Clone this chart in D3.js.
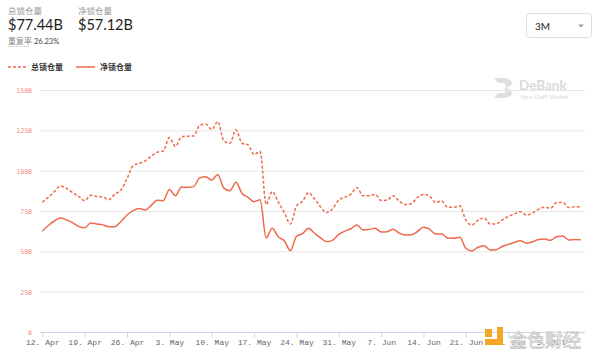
<!DOCTYPE html>
<html>
<head>
<meta charset="utf-8">
<script src="https://cdn.jsdelivr.net/npm/d3@7/dist/d3.min.js"></script>
<style>
  body { margin: 0; background: #fff; }
  svg { display: block; font-family: Lato, "Noto Sans CJK SC", sans-serif; }
</style>
</head>
<body>
<svg id="chart" width="600" height="359"></svg>
<script>
// daily values, 12 Apr .. 10 Jul (billions USD)
var startDate = new Date(2021, 3, 12);
var totalLocked = [80.5, 83.5, 87, 90.5, 89, 86.5, 84, 81.4, 84.8, 84, 83.7, 82, 85.5, 88, 95,
  103, 104.5, 106, 109, 111.5, 112.2, 120.5, 115, 121, 121.4, 121.5, 128, 128.9, 125.5, 130.4,
  118.5, 117, 125.3, 117, 116, 110, 112, 79, 87, 80.5, 74, 67, 78, 81, 86.3, 82.5, 77.5, 74,
  76.5, 81.8, 83.5, 85.5, 89.5, 84.5, 84.5, 85.3, 81.5, 81.8, 84.5, 81, 79, 79.5, 83.5, 85.3,
  84.3, 80.2, 81.2, 77.3, 77.3, 78.2, 69.4, 66.3, 69.2, 70.8, 66.9, 66.9, 69.5, 71.5, 73.2,
  74.6, 72.5, 73.7, 76, 77.3, 76.7, 80.2, 80.4, 77.2, 77.6, 77.44];
var netLocked = [62.6, 66, 68.8, 70.6, 69.5, 67.8, 65.5, 64.6, 67.6, 66.9, 66.4, 65.2, 65.3, 68.5,
  72.5, 75.2, 76.5, 75.6, 78.5, 81.6, 81.4, 88.3, 84.5, 89.8, 89.7, 90.1, 95.5, 96.3, 94.2, 97.7,
  89.2, 87.6, 92.8, 86, 83.5, 80.8, 82, 58.3, 64.3, 59, 56.5, 50.4, 59.2, 61, 64.3, 61.2, 58.3,
  56, 57, 60.5, 62.5, 64, 66.4, 63.3, 63.6, 64.3, 62, 62.2, 63.7, 61.3, 60.2, 60.3, 62.3, 64.9,
  63.8, 60.7, 60.7, 58.2, 58.1, 58.7, 51.9, 50.2, 52.5, 53.5, 50.8, 51, 53, 54.3, 55.5, 56.6,
  55, 55.9, 57.3, 57.6, 56.8, 59.1, 59.5, 57.1, 57.4, 57.12];
var yTicks = [0, 25, 50, 75, 100, 125, 150];
var xTickLabels = ["12. Apr", "19. Apr", "26. Apr", "3. May", "10. May", "17. May", "24. May",
  "31. May", "7. Jun", "14. Jun", "21. Jun", "28. Jun", "5. Jul"];

var lineColor = "#ee6a4c";
var svg = d3.select("#chart");

function dayDate(i) { return d3.timeDay.offset(startDate, i); }

var x = d3.scaleTime()
  .domain([startDate, dayDate(89)])
  .range([42.3, 580.8]);
var y = d3.scaleLinear().domain([0, 150]).range([332, 90]);

// header numbers
var hdr = svg.append("g");
hdr.append("text").attr("x", 8).attr("y", 14).attr("font-size", 8.5).attr("fill", "#999").text("总锁仓量");
hdr.append("text").attr("x", 8).attr("y", 30).attr("font-size", 14.5).attr("fill", "#222").text("$77.44B");
hdr.append("text").attr("x", 78).attr("y", 14).attr("font-size", 8.5).attr("fill", "#999").text("净锁仓量");
hdr.append("text").attr("x", 78).attr("y", 30).attr("font-size", 14.5).attr("fill", "#222").text("$57.12B");
hdr.append("text").attr("x", 8).attr("y", 44).attr("font-size", 8).attr("fill", "#888").text("重复率");
hdr.append("line").attr("x1", 8).attr("x2", 30).attr("y1", 46.5).attr("y2", 46.5)
  .attr("stroke", "#bbb").attr("stroke-dasharray", "1,1");
hdr.append("text").attr("x", 34).attr("y", 44).attr("font-size", 7.5).attr("fill", "#444").text("26.23%");

// period selector
var sel = svg.append("g");
sel.append("rect").attr("x", 526.5).attr("y", 13.5).attr("width", 65).attr("height", 24).attr("rx", 3)
  .attr("fill", "#fff").attr("stroke", "#ddd");
sel.append("text").attr("x", 535).attr("y", 30).attr("font-size", 10).attr("fill", "#222").text("3M");
sel.append("path").attr("d", "M578,24.5 L584,24.5 L581,27.5 Z").attr("fill", "#999");

// legend
var lg = svg.append("g");
lg.append("line").attr("x1", 8).attr("x2", 26).attr("y1", 67).attr("y2", 67)
  .attr("stroke", lineColor).attr("stroke-width", 1.5).attr("stroke-dasharray", "3,2");
lg.append("text").attr("x", 31).attr("y", 70).attr("font-size", 8).attr("font-weight", "bold")
  .attr("fill", "#333").text("总锁仓量");
lg.append("line").attr("x1", 76).attr("x2", 95).attr("y1", 67).attr("y2", 67)
  .attr("stroke", lineColor).attr("stroke-width", 1.5);
lg.append("text").attr("x", 100).attr("y", 70).attr("font-size", 8).attr("font-weight", "bold")
  .attr("fill", "#333").text("净锁仓量");

// DeBank watermark
var wm = svg.append("g").attr("opacity", 0.9);
wm.append("path").attr("d", "M494,78 h10 a8,5 0 0 1 0,10 a8,5 0 0 1 0,10 h-10 l4,-5 h5 a2,2 0 0 0 0,-5 a2,2 0 0 0 0,-5 h-5 z")
  .attr("fill", "#dcdcdc");
wm.append("text").attr("x", 519).attr("y", 90).attr("font-size", 13.5).attr("font-weight", "bold")
  .attr("fill", "#d6d6d6").text("DeBank");
wm.append("text").attr("x", 520).attr("y", 99).attr("font-size", 6.5).attr("fill", "#d6d6d6").text("Your DeFi Wallet");

// grid
svg.append("g").selectAll("line").data(yTicks.filter(function(d){ return d > 0; })).enter()
  .append("line")
  .attr("x1", 40).attr("x2", 585)
  .attr("y1", function(d){ return y(d) + 0.5; }).attr("y2", function(d){ return y(d) + 0.5; })
  .attr("stroke", "#e6e6e6");

svg.append("g").selectAll("text").data(yTicks).enter()
  .append("text")
  .attr("x", 32).attr("y", function(d){ return y(d) + 3; })
  .attr("text-anchor", "end")
  .attr("font-family", "'DejaVu Sans Mono', monospace")
  .attr("font-size", 6.5).attr("fill", "#f08a80")
  .text(function(d){ return d === 0 ? "0" : d + "B"; });

// x axis
var tickDates = xTickLabels.map(function(t, i){ return dayDate(i * 7); });
var xAxis = d3.axisBottom(x).tickValues(tickDates).tickSize(5)
  .tickFormat(function(d, i){ return xTickLabels[i]; });
var gx = svg.append("g").attr("transform", "translate(0,332.5)").call(xAxis);
gx.select(".domain").attr("d", "M40,0H585").attr("stroke", "#ccd6eb");
gx.selectAll(".tick line").attr("stroke", "#ccd6eb");
gx.selectAll(".tick text").attr("font-family", "'Liberation Mono', 'DejaVu Sans Mono', monospace")
  .attr("font-size", 8).attr("fill", "#666").attr("dy", "0.55em");

// lines
var line = d3.line()
  .x(function(d, i){ return x(dayDate(i)); })
  .y(function(d){ return y(d); })
  .curve(d3.curveMonotoneX);

svg.append("path").datum(totalLocked).attr("d", line)
  .attr("fill", "none").attr("stroke", lineColor).attr("stroke-width", 1.5)
  .attr("stroke-dasharray", "3,2");
svg.append("path").datum(netLocked).attr("d", line)
  .attr("fill", "none").attr("stroke", lineColor).attr("stroke-width", 1.5);

// jinse watermark
var js = svg.append("g");
js.append("rect").attr("x", 485).attr("y", 329).attr("width", 7).attr("height", 8).attr("fill", "#f5a623");
js.append("path").attr("d", "M494,327 h9 v18 h-18 v-6 h12 v-12 z").attr("fill", "#f5a623");
js.append("text").attr("x", 509).attr("y", 347).attr("font-size", 18)
  .attr("font-family", "'Noto Sans CJK SC', sans-serif")
  .attr("fill", "#fafafa").attr("stroke", "#c8c8c8").attr("stroke-width", 0.8)
  .text("金色财经");
</script>
</body>
</html>
